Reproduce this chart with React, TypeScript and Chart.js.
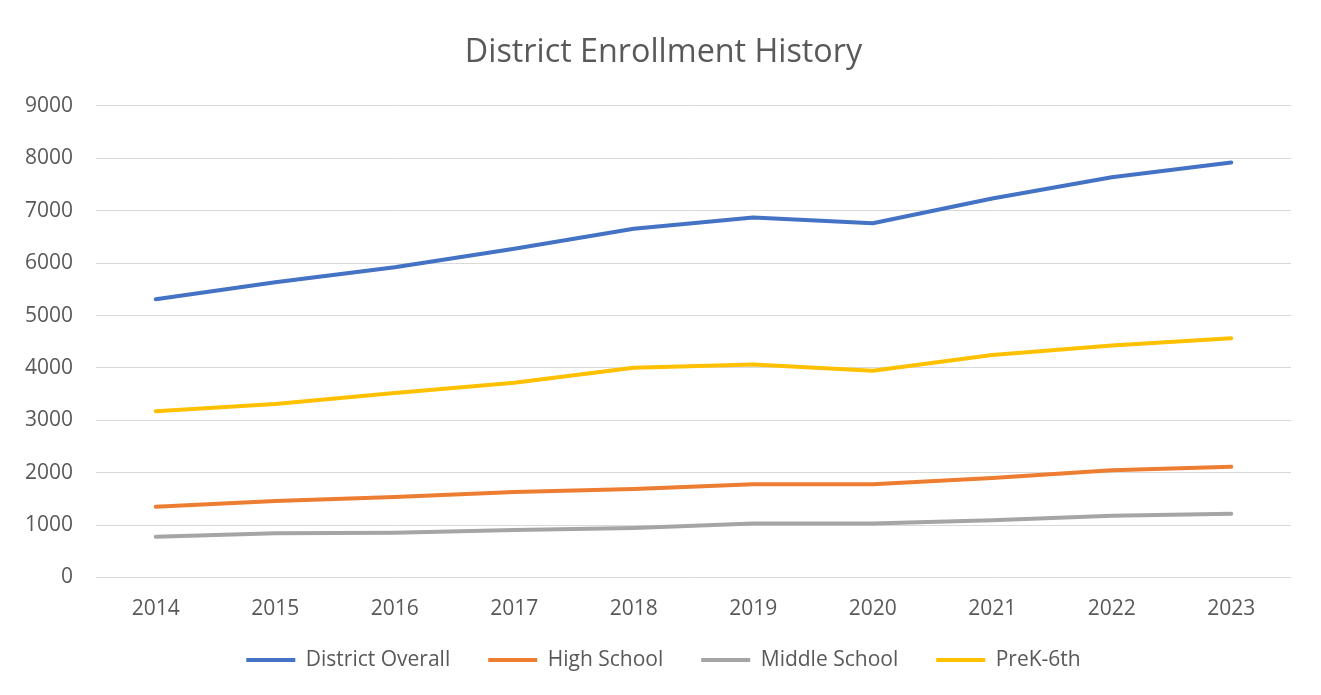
import React, { useEffect, useRef } from "react";
import { Chart, registerables } from "chart.js";

Chart.register(...registerables);

const years = ["2014", "2015", "2016", "2017", "2018", "2019", "2020", "2021", "2022", "2023"];
const districtOverall = [5310, 5635, 5920, 6275, 6655, 6870, 6760, 7235, 7640, 7922];
const highSchool = [1352, 1460, 1537, 1632, 1689, 1781, 1781, 1900, 2045, 2112];
const middleSchool = [780, 845, 852, 906, 945, 1032, 1032, 1092, 1180, 1218];
const preK6th = [3175, 3310, 3520, 3718, 4005, 4066, 3947, 4245, 4430, 4566];
const yTicks = [0, 1000, 2000, 3000, 4000, 5000, 6000, 7000, 8000, 9000];

const FONT = "'Open Sans', 'Noto Sans', sans-serif";
const TEXT = "#595959";
const GRID = "#d9d9d9";

const legendShift = {
  id: "legendShift",
  afterLayout(chart: any) {
    const lg = chart.legend;
    if (lg) {
      lg.top -= 10;
      lg.bottom -= 10;
    }
  },
};

export default function App() {
  const ref = useRef<HTMLCanvasElement | null>(null);

  useEffect(() => {
    if (!ref.current) return;
    const mk = (label: string, data: number[], color: string) => ({
      label,
      data,
      borderColor: color,
      backgroundColor: color,
      borderWidth: 4,
      borderCapStyle: "round" as const,
      borderJoinStyle: "round" as const,
      pointRadius: 0,
      pointHoverRadius: 0,
      pointStyle: "line" as const,
      tension: 0,
      fill: false,
    });
    const chart = new Chart(ref.current, {
      type: "line",
      data: {
        labels: years,
        datasets: [
          mk("District Overall", districtOverall, "#4472C4"),
          mk("High School", highSchool, "#ED7D31"),
          mk("Middle School", middleSchool, "#A5A5A5"),
          mk("PreK-6th", preK6th, "#FFC000"),
        ],
      },
      plugins: [legendShift],
      options: {
        animation: false,
        responsive: false,
        maintainAspectRatio: false,
        layout: { padding: { left: 0, right: 0, top: 0, bottom: 5.5 } },
        plugins: {
          tooltip: { enabled: false },
          title: {
            display: true,
            text: "District Enrollment History",
            color: TEXT,
            font: { family: FONT, size: 32.3, weight: "normal" },
            padding: { top: 25.5, bottom: 33.7 },
          },
          legend: {
            display: true,
            position: "bottom",
            labels: {
              usePointStyle: true,
              pointStyleWidth: 49,
              padding: 38,
              color: TEXT,
              font: { family: FONT, size: 21 },
            },
          },
        },
        scales: {
          x: {
            offset: true,
            grid: { display: false, drawTicks: false },
            border: { display: false },
            ticks: {
              color: TEXT,
              font: { family: FONT, size: 21 },
              padding: 19,
              maxRotation: 0,
              autoSkip: false,
            },
            afterFit: (s: any) => {
              s.height = 44;
            },
          },
          y: {
            min: 0,
            max: 9000,
            grid: { color: GRID, lineWidth: 1, drawTicks: false },
            border: { display: false },
            ticks: {
              color: TEXT,
              font: { family: FONT, size: 21 },
              padding: 23,
              callback: (v: any) => String(v),
            },
            afterBuildTicks: (s: any) => {
              s.ticks = yTicks.map((v) => ({ value: v }));
            },
            afterFit: (s: any) => {
              s.width = 88;
            },
          },
          y2: {
            position: "right",
            display: true,
            grid: { display: false, drawTicks: false },
            border: { display: false },
            ticks: { display: false },
            afterFit: (s: any) => {
              s.width = 28;
            },
          },
        },
      } as any,
    });
    return () => chart.destroy();
  }, []);

  return (
    <div
      style={{
        width: 1313,
        height: 690,
        marginLeft: -1,
        marginTop: -1,
        border: `1px solid ${GRID}`,
        boxSizing: "border-box",
        background: "#fff",
      }}
    >
      <canvas ref={ref} width={1311} height={688} style={{ display: "block", width: 1311, height: 688 }} />
    </div>
  );
}
